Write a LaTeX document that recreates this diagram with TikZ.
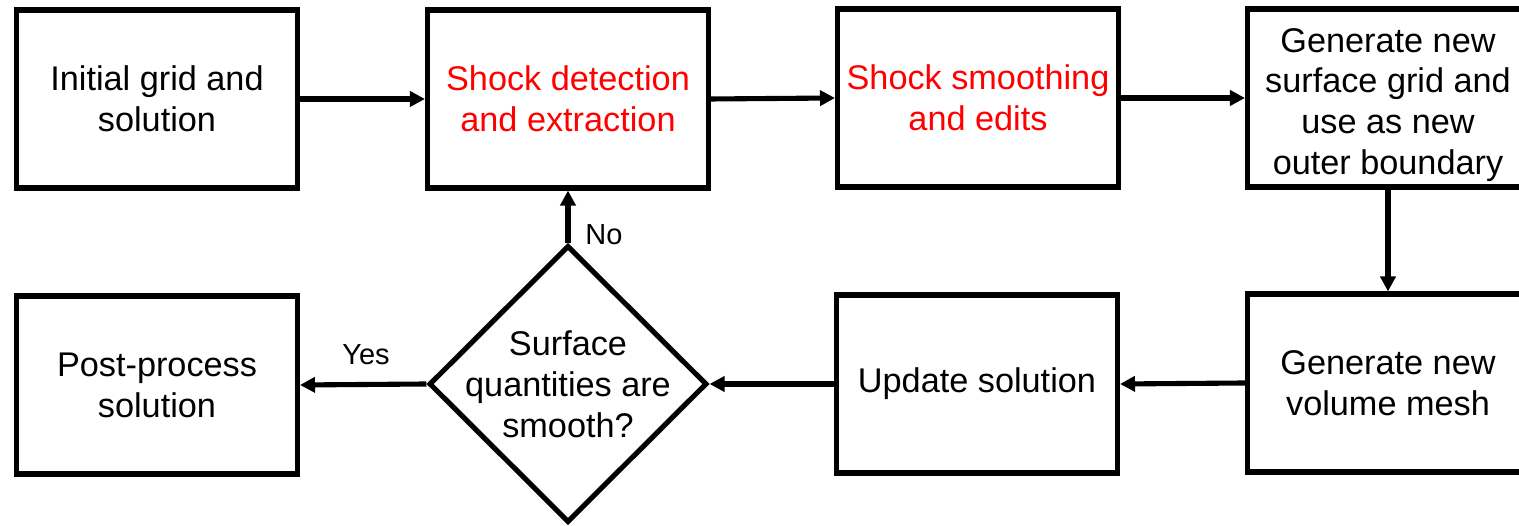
\documentclass[tikz,border=0pt]{standalone}
\usepackage{fontspec}
\setmainfont{Liberation Sans}
\usetikzlibrary{arrows.meta}
\usetikzlibrary{shapes.geometric}
\usetikzlibrary{positioning}
\definecolor{flink}{HTML}{000000}
\definecolor{flred}{HTML}{FF0000}
\tikzset{
  flbox/.style={
    draw=flink, line width=2.9pt, fill=white, inner sep=0pt,
    minimum width=5.62cm, minimum height=3.56cm, align=center,
    font=\fontsize{19.5}{23.3}\selectfont, text=flink},
  fldecide/.style={
    diamond, draw=flink, line width=2.9pt, fill=white, inner sep=0pt,
    minimum width=5.56cm, minimum height=5.54cm},
  fltext/.style={align=center, font=\fontsize{19.5}{23.3}\selectfont,
    text=flink},
  flarrow/.style={-{Triangle[length=0.3cm, width=0.3cm]}, draw=flink,
    line width=2.9pt},
  fllabel/.style={font=\fontsize{16.5}{19}\selectfont, text=flink},
}
\begin{document}
\begin{tikzpicture}[x=0.02cm, y=0.02cm]
\useasboundingbox (0, 0) rectangle (1519, 526);

% ------------------------------------------------------------ top row
\node[flbox] (init) at (157, 427) {Initial grid and\\solution};
\node[flbox, text=flred] (detect) at (568, 427)
  {Shock detection\\and extraction};
\node[flbox, text=flred] (smooth) at (978, 428)
  {Shock smoothing\\and edits};
\node[flbox] (surf) at (1388, 428) {};
\node[fltext] (surftext) at ([yshift=-4]surf.center)
  {Generate new\\surface grid and\\use as new\\outer boundary};

% --------------------------------------------------------- bottom row
\node[flbox] (post) at (157, 141) {Post-process\\solution};
\node[fldecide] (check) at (568, 142) {};
\node[fltext] (checktext) at (check.center)
  {Surface\\quantities are\\smooth?};
\node[flbox] (update) at (977, 142) {Update solution};
\node[flbox] (volume) at (1388, 143) {Generate new\\volume mesh};

% ----------------------------------------------------------- arrows
\draw[flarrow] (init.east) -- (detect.west);
\draw[flarrow] (detect.east) -- (smooth.west);
\draw[flarrow] (smooth.east) -- (surf.west);
\draw[flarrow] (surf.south) -- (volume.north);
\draw[flarrow] (volume.west) -- (update.east);
\draw[flarrow] (update.west) -- (check.east);
\draw[flarrow] (check.west) -- (post.east);
\draw[flarrow] (check.north) -- (detect.south);

% Labels.
\node[fllabel] (yes) at (366, 171) {Yes};
\node[fllabel] (no) at (604, 291) {No};

\end{tikzpicture}
\end{document}
